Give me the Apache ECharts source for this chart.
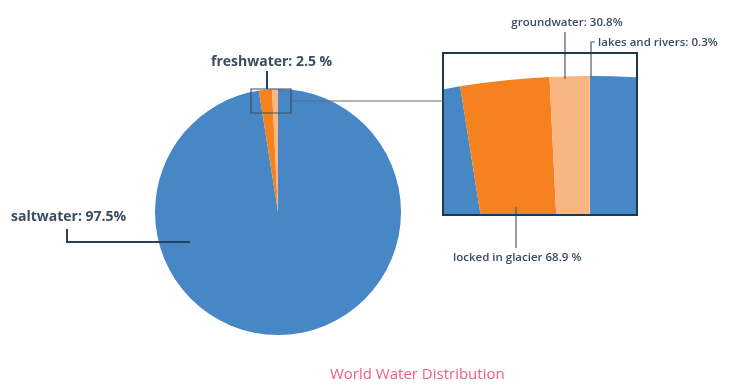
<!DOCTYPE html>
<html>
<head>
<meta charset="utf-8">
<script src="https://cdn.jsdelivr.net/npm/echarts@6/dist/echarts.min.js"></script>
<style>html,body{margin:0;padding:0;background:#fff;}#c{width:732px;height:392px;}</style>
</head>
<body>
<div id="c"></div>
<script>
// ---- data ----
var topCategories = ['saltwater', 'freshwater'];
var topValues = [97.5, 2.5];
var freshCategories = ['locked in glacier', 'groundwater', 'lakes and rivers'];
var freshShares = [68.9, 30.8, 0.3];
var topLabels = ['saltwater: 97.5%', 'freshwater: 2.5 %'];
var freshLabels = ['locked in glacier 68.9 %', 'groundwater: 30.8%', 'lakes and rivers: 0.3%'];
var chartTitle = 'World Water Distribution';

// ---- style ----
var BLUE = '#4887c6', DARK_OR = '#f5821f', LIGHT_OR = '#f9b680';
var TXT = '#3a4c63';
var freshColors = [DARK_OR, LIGHT_OR, LIGHT_OR];

// detailed data: saltwater + freshwater broken down
var detail = [{ name: topCategories[0], value: topValues[0], itemStyle: { color: BLUE } }];
freshCategories.forEach(function (n, i) {
  detail.push({ name: n, value: topValues[1] * freshShares[i] / 100, itemStyle: { color: freshColors[i] } });
});

var mainCenter = [278, 212], mainR = 123;
var insetCenter = [590, 906], insetR = 830;
var box = { x: 443, y: 53, w: 194, h: 162 };

// label layouts (positions)
var topLayout = {
  saltwater: { x: 11, y: 217, align: 'left', verticalAlign: 'middle', labelLinePoints: [[190, 242], [67, 242], [67, 229]] },
  freshwater: { x: 211, y: 62, align: 'left', verticalAlign: 'middle', labelLinePoints: [[267, 89], [267, 80], [267, 71]] }
};
var insetLayout = {
  'locked in glacier': { x: 453, y: 258, align: 'left', verticalAlign: 'middle', labelLinePoints: [[516, 207], [516, 230], [516, 248]] },
  'groundwater': { x: 567, y: 23, align: 'center', verticalAlign: 'middle', labelLinePoints: [[565, 79], [565, 55], [565, 32]] },
  'lakes and rivers': { x: 598, y: 43, align: 'left', verticalAlign: 'middle', labelLinePoints: [[591, 77], [591, 42], [595, 42]] }
};

var insetLabelText = {};
freshCategories.forEach(function (n, i) { insetLabelText[n] = freshLabels[i]; });
var topLabelText = {};
topCategories.forEach(function (n, i) { topLabelText[n] = topLabels[i]; });

var chart = echarts.init(document.getElementById('c'), null, { renderer: 'canvas' });
var option = {
  animation: false,
  backgroundColor: '#fff',
  title: {
    text: chartTitle, left: 325, top: 362,
    textStyle: { color: '#f0607e', fontSize: 15, fontWeight: 'normal', fontFamily: 'Open Sans' }, z: 10
  },
  series: [
    // inset magnified pie (masked to box)
    {
      type: 'pie', z: 1, silent: true, center: insetCenter, radius: insetR,
      startAngle: 90, clockwise: true, label: { show: false }, labelLine: { show: false },
      itemStyle: { borderWidth: 0 }, emphasis: { disabled: true },
      data: detail
    },
    // main pie
    {
      type: 'pie', z: 3, silent: true, center: mainCenter, radius: mainR,
      startAngle: 90, clockwise: true, emphasis: { disabled: true },
      itemStyle: { borderWidth: 0 },
      label: { show: false }, labelLine: { show: false },
      data: detail
    },
    // saltwater / freshwater labels overlay on main pie
    {
      type: 'pie', z: 4, silent: true, center: mainCenter, radius: mainR,
      startAngle: 90, clockwise: true, emphasis: { disabled: true },
      itemStyle: { borderWidth: 0, color: 'rgba(0,0,0,0)' },
      label: { show: true, fontFamily: 'Open Sans', fontSize: 14, fontWeight: 'bold', color: TXT, formatter: function (p) { return topLabelText[p.name]; } },
      labelLine: { show: true, lineStyle: { color: '#2c3f56', width: 2 } },
      labelLayout: function (p) { return topLayout[topCategories[p.dataIndex]] || {}; },
      data: topCategories.map(function (n, i) { return { name: n, value: topValues[i] }; })
    },
    // inset labels overlay
    {
      type: 'pie', z: 5, silent: true, center: insetCenter, radius: insetR,
      startAngle: 90, clockwise: true, emphasis: { disabled: true },
      itemStyle: { borderWidth: 0, color: 'rgba(0,0,0,0)' },
      label: { fontFamily: 'Open Sans', fontSize: 11.5, fontWeight: 600, color: TXT, formatter: function (p) { return insetLabelText[p.name]; } },
      labelLine: { show: true, lineStyle: { color: '#4a5b70', width: 1.2 } },
      labelLayout: function (p) { return insetLayout[detail[p.dataIndex].name] || {}; },
      data: detail.map(function (d) {
        var has = !!insetLabelText[d.name];
        return { name: d.name, value: d.value, label: { show: has }, labelLine: { show: has } };
      })
    }
  ],
  graphic: [
    // mask around inset box
    { type: 'rect', z: 2, silent: true, shape: { x: 0, y: 0, width: 732, height: box.y }, style: { fill: '#fff' } },
    { type: 'rect', z: 2, silent: true, shape: { x: 0, y: box.y + box.h, width: 732, height: 392 - box.y - box.h }, style: { fill: '#fff' } },
    { type: 'rect', z: 2, silent: true, shape: { x: 0, y: box.y, width: box.x, height: box.h }, style: { fill: '#fff' } },
    { type: 'rect', z: 2, silent: true, shape: { x: box.x + box.w, y: box.y, width: 732 - box.x - box.w, height: box.h }, style: { fill: '#fff' } },
    // inset border
    { type: 'rect', z: 6, silent: true, shape: { x: box.x, y: box.y, width: box.w, height: box.h }, style: { fill: null, stroke: '#1c3853', lineWidth: 2 } },
    // small zoom box on main pie
    { type: 'rect', z: 6, silent: true, shape: { x: 251, y: 89, width: 40, height: 24 }, style: { fill: null, stroke: '#3b4e62', lineWidth: 1.2 } },
    // connector
    { type: 'line', z: 6, silent: true, shape: { x1: 291, y1: 101, x2: box.x, y2: 101 }, style: { stroke: '#5f6f82', lineWidth: 1.2 } }
  ]
};
chart.setOption(option);
</script>
</body>
</html>
